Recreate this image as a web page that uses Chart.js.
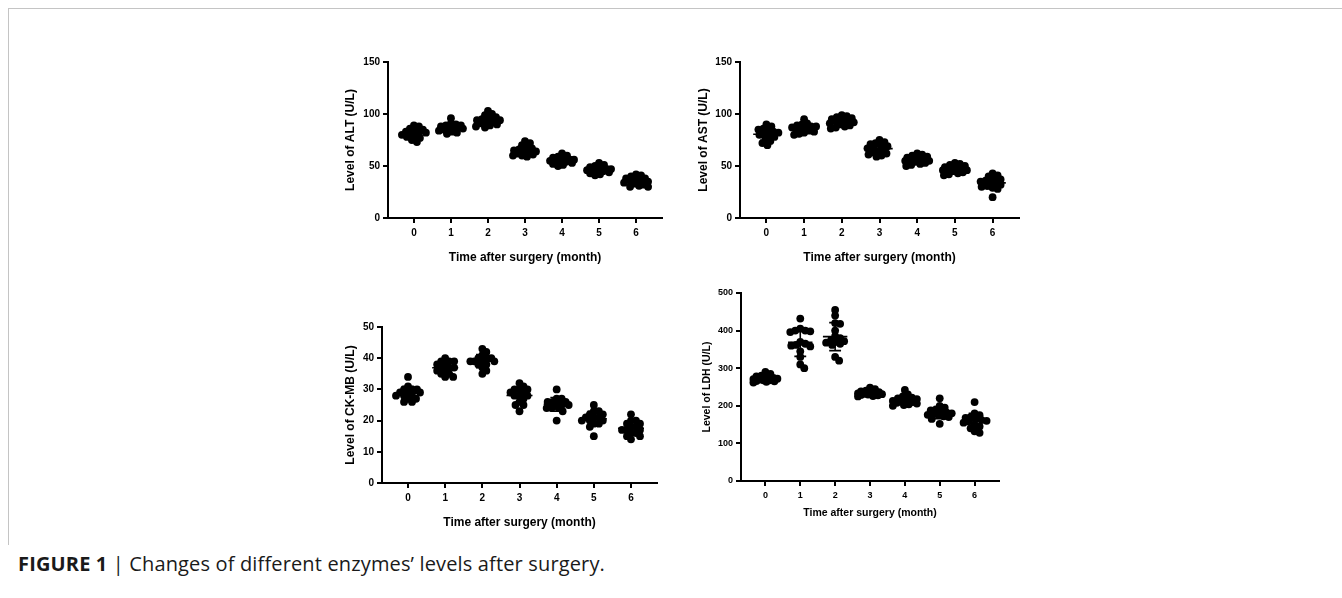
<!DOCTYPE html>
<html lang="en">
<head>
<meta charset="UTF-8">
<title>Changes of different enzymes' levels after surgery</title>
<script src="https://cdn.jsdelivr.net/npm/chart.js@4.4.1/dist/chart.umd.min.js"></script>
<style>
    body {
        margin: 0;
        width: 1342px;
        height: 598px;
        position: relative;
        overflow: hidden;
        background: #fff;
        font-family: 'Liberation Sans', Arial, sans-serif;
    }
    .frame {
        position: absolute;
        left: 8px;
        top: 8px;
        width: 1334px;
        height: 536px;
        border-top: 1px solid #c4c4c4;
        border-left: 1px solid #c4c4c4;
    }
    .panel { position: absolute; }
    .caption {
        position: absolute;
        left: 18px;
        top: 550px;
        font-family: 'Open Sans', sans-serif;
        font-size: 20px;
        letter-spacing: 0.15px;
        color: #1a1a1a;
        white-space: nowrap;
    }
</style>
</head>
<body>
<div class="frame"></div>
<div class="panel" style="left:340px;top:52px;width:330px;height:230px"><canvas id="alt"></canvas></div>
<div class="panel" style="left:692px;top:52px;width:335px;height:230px"><canvas id="ast"></canvas></div>
<div class="panel" style="left:334px;top:317px;width:331px;height:230px"><canvas id="ckmb"></canvas></div>
<div class="panel" style="left:693px;top:283px;width:314px;height:250px"><canvas id="ldh"></canvas></div>
<div class="caption"><b>FIGURE 1</b> | Changes of different enzymes’ levels after surgery.</div>

<script>
// months after surgery (x categories)
const months = [0, 1, 2, 3, 4, 5, 6];

// ALT (U/L), one array per month
const altValues = [
    [89, 88, 86, 85, 84, 83, 82, 82, 81, 80, 79, 78, 77, 75, 73],
    [96, 91, 90, 89, 89, 88, 88, 87, 87, 86, 85, 84, 83, 82, 81],
    [103, 100, 99, 97, 96, 95, 94, 94, 93, 92, 91, 90, 89, 88, 87],
    [74, 72, 70, 68, 67, 66, 65, 64, 64, 63, 62, 61, 60, 60, 59],
    [62, 60, 59, 58, 57, 56, 56, 55, 55, 54, 54, 53, 52, 51, 50],
    [53, 51, 50, 49, 48, 47, 47, 46, 46, 45, 45, 44, 43, 42, 41],
    [42, 41, 40, 38, 38, 37, 36, 36, 35, 34, 33, 32, 31, 30, 30]
];

// AST (U/L)
const astValues = [
    [90, 88, 86, 85, 84, 83, 82, 81, 80, 79, 78, 76, 74, 72, 70],
    [95, 91, 90, 89, 88, 88, 87, 87, 86, 85, 84, 83, 82, 81, 80],
    [99, 98, 97, 96, 95, 94, 93, 93, 92, 91, 90, 89, 88, 87, 86],
    [75, 73, 72, 71, 70, 69, 68, 67, 66, 64, 63, 62, 61, 60, 59],
    [62, 61, 60, 59, 58, 57, 56, 56, 55, 55, 54, 53, 52, 51, 50],
    [53, 52, 51, 50, 49, 48, 47, 47, 46, 46, 45, 44, 43, 42, 41],
    [43, 41, 40, 38, 37, 36, 35, 34, 33, 32, 31, 30, 29, 28, 20]
];

// CK-MB (U/L)
const ckmbValues = [
    [34, 31, 30, 30, 30, 29, 29, 29, 28, 28, 28, 27, 27, 26, 26],
    [40, 39, 39, 39, 38, 38, 37, 37, 37, 36, 36, 35, 35, 34, 34],
    [43, 42, 41, 40, 40, 40, 39, 39, 39, 39, 38, 38, 37, 36, 35],
    [32, 31, 30, 30, 30, 29, 29, 28, 28, 28, 27, 26, 25, 25, 23],
    [30, 27, 27, 26, 26, 26, 26, 25, 25, 25, 24, 24, 24, 23, 20],
    [25, 23, 23, 22, 22, 21, 21, 21, 20, 20, 20, 19, 19, 18, 15],
    [22, 20, 20, 19, 19, 18, 18, 17, 17, 17, 16, 16, 15, 15, 14]
];

// LDH (U/L)
const ldhValues = [
    [290, 285, 280, 278, 276, 274, 272, 271, 270, 268, 268, 266, 265, 264, 262],
    [432, 405, 400, 400, 398, 396, 370, 365, 362, 360, 358, 345, 330, 310, 300],
    [455, 440, 420, 418, 400, 385, 380, 375, 372, 370, 368, 365, 362, 330, 320],
    [248, 244, 240, 238, 236, 235, 234, 233, 232, 231, 230, 229, 228, 226, 225],
    [242, 230, 225, 222, 220, 218, 215, 213, 212, 210, 208, 206, 204, 202, 200],
    [220, 200, 195, 190, 188, 185, 182, 180, 178, 176, 175, 172, 170, 165, 152],
    [210, 180, 175, 170, 168, 165, 162, 160, 158, 155, 150, 145, 140, 132, 128]
];

const xTitle = 'Time after surgery (month)';

const panels = [
    { id: 'alt', values: altValues, title: 'Level of ALT (U/L)', yMax: 150, yStep: 50,
      tickSize: 10, titleSize: 12, yTitlePad: 3, xTitlePad: 17, axisW: 48, axisH: 64, padTop: 10 },
    { id: 'ast', values: astValues, title: 'Level of AST (U/L)', yMax: 150, yStep: 50,
      tickSize: 10, titleSize: 12, yTitlePad: 4, xTitlePad: 17, axisW: 48, axisH: 64, padTop: 10 },
    { id: 'ckmb', values: ckmbValues, title: 'Level of CK-MB (U/L)', yMax: 50, yStep: 10,
      tickSize: 10, titleSize: 12, yTitlePad: 9, xTitlePad: 17, axisW: 48, axisH: 64, padTop: 10 },
    { id: 'ldh', values: ldhValues, title: 'Level of LDH (U/L)', yMax: 500, yStep: 100,
      tickSize: 9, titleSize: 10.5, yTitlePad: 8, xTitlePad: 14, axisW: 48, axisH: 52, padTop: 10 }
];

function mean(a) { return a.reduce((s, v) => s + v, 0) / a.length; }
function sd(a) {
    const m = mean(a);
    return Math.sqrt(a.reduce((s, v) => s + (v - m) * (v - m), 0) / (a.length - 1));
}

// mean line + SD whiskers, broken with nulls between segments
function errorBars(values) {
    const pts = [];
    values.forEach((g, i) => {
        const m = mean(g), s = sd(g);
        pts.push({ x: i - 0.35, y: m }, { x: i + 0.35, y: m }, { x: i, y: null });
        pts.push({ x: i, y: m - s }, { x: i, y: m + s }, { x: i, y: null });
        pts.push({ x: i - 0.17, y: m + s }, { x: i + 0.17, y: m + s }, { x: i, y: null });
        pts.push({ x: i - 0.17, y: m - s }, { x: i + 0.17, y: m - s }, { x: i, y: null });
    });
    return pts;
}

// spread points sideways (limited width) so they overlap less
function swarm(vals, center, xs, ys, gap, maxDx) {
    const cx = xs.getPixelForValue(center);
    const placed = [];
    const out = [];
    const order = vals.map((v, k) => k).sort((a, b) => vals[b] - vals[a]);
    order.forEach(k => {
        const py = ys.getPixelForValue(vals[k]);
        let best = 0, bestDist = -1;
        for (let s = 0; s <= maxDx * 2; s++) {
            const cand = s === 0 ? 0 : (s % 2 ? 1 : -1) * Math.ceil(s / 2);
            const d = placed.length ? Math.min(...placed.map(p => Math.hypot(p.x - cand, p.y - py))) : 99;
            if (d >= gap) { best = cand; bestDist = d; break; }
            if (d > bestDist) { best = cand; bestDist = d; }
        }
        placed.push({ x: best, y: py });
        out.push({ x: xs.getValueForPixel(cx + best), y: vals[k] });
    });
    return out;
}

function makeChart(p) {
    const font = size => ({ family: "'Liberation Sans', Arial, sans-serif", size: size, weight: 'bold' });
    const ctx = document.getElementById(p.id).getContext('2d');
    const pointData = [];
    p.values.forEach((g, i) => g.forEach(v => pointData.push({ x: i, y: v })));

    const chart = new Chart(ctx, {
        type: 'scatter',
        data: {
            datasets: [
                {
                    data: errorBars(p.values),
                    showLine: true,
                    spanGaps: false,
                    borderColor: '#000',
                    borderWidth: 1.6,
                    pointRadius: 0,
                    order: 0
                },
                {
                    data: pointData,
                    backgroundColor: '#000',
                    borderWidth: 0,
                    pointRadius: 3.9,
                    order: 1
                }
            ]
        },
        options: {
            responsive: true,
            maintainAspectRatio: false,
            animation: false,
            events: [],
            layout: { padding: { top: p.padTop, right: 8, left: 0, bottom: 0 } },
            plugins: { legend: { display: false }, tooltip: { enabled: false } },
            scales: {
                x: {
                    type: 'linear',
                    min: -0.7,
                    max: 6.7,
                    afterBuildTicks: scale => { scale.ticks = months.map(m => ({ value: m })); },
                    afterFit: scale => { scale.height = p.axisH; },
                    ticks: { color: '#000', font: font(p.tickSize), padding: 4, maxRotation: 0 },
                    grid: { drawOnChartArea: false, drawTicks: true, tickLength: 5, color: '#000', lineWidth: 2 },
                    border: { display: true, color: '#000', width: 2 },
                    title: { display: true, text: xTitle, color: '#000', font: font(p.titleSize),
                             padding: { top: 0, bottom: p.xTitlePad } }
                },
                y: {
                    min: 0,
                    max: p.yMax,
                    afterFit: scale => { scale.width = p.axisW; },
                    ticks: { stepSize: p.yStep, color: '#000', font: font(p.tickSize), padding: 3 },
                    grid: { drawOnChartArea: false, drawTicks: true, tickLength: 5, color: '#000', lineWidth: 2 },
                    border: { display: true, color: '#000', width: 2 },
                    title: { display: true, text: p.title, color: '#000', font: font(p.titleSize),
                             padding: { top: p.yTitlePad, bottom: 0 } }
                }
            }
        }
    });

    // place the dots of each month as a swarm, using the laid out scales
    const xs = chart.scales.x, ys = chart.scales.y;
    const swarmed = [];
    p.values.forEach((g, i) => swarmed.push(...swarm(g, i, xs, ys, 5, 12)));
    chart.data.datasets[1].data = swarmed;
    chart.update('none');
}

panels.forEach(makeChart);
</script>
</body>
</html>
